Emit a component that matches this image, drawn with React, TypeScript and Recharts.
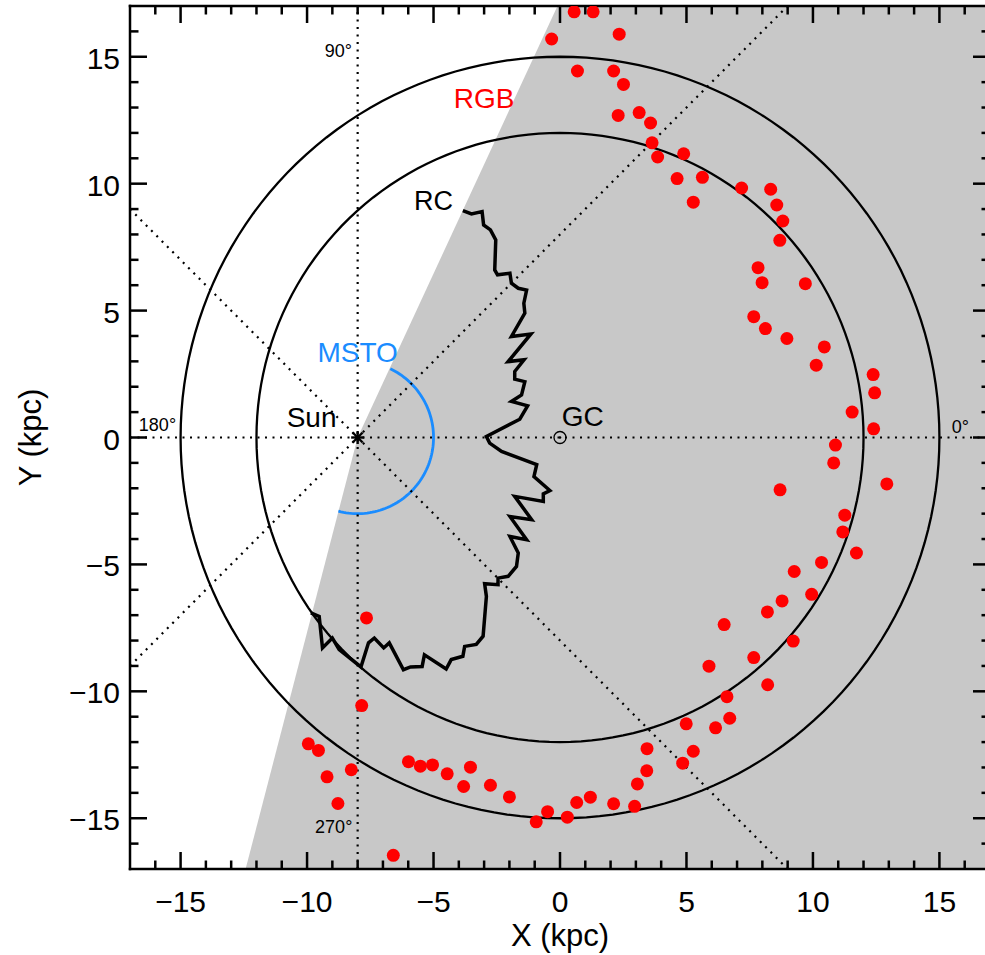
import React from "react";
import { Area, ComposedChart, Line, ReferenceDot, Scatter, XAxis, YAxis } from "recharts";

const FONT = '"Liberation Sans", Arial, Helvetica, sans-serif';

// galactocentric frame, kpc
const SUN = [{ x: -8, y: 0 }];
const GC = [{ x: 0, y: 0 }];
const RING_RADII = [12, 15];
const MSTO_RADIUS = 3;
const MSTO_ARC_DEG = [-104.7, 64.5];

// survey footprint (grey), boundary through the Sun
const FOOTPRINT = [
  { x: -12.43, y: -17 },
  { x: -8, y: 0 },
  { x: -0.1, y: 17 },
  { x: 17, y: 17 },
];

// lines of sight l = 0/180, 90/270, 45/225, 135/315
const LOS_LINES = [
  [{ x: -17, y: 0 }, { x: 17, y: 0 }],
  [{ x: -8, y: -17 }, { x: -8, y: 17 }],
  [{ x: -17, y: -9 }, { x: 9, y: 17 }],
  [{ x: -17, y: 9 }, { x: 9, y: -17 }],
];

// outer edge of the red clump sample
const RC_EDGE = [
  [-3.84, 8.94], [-3.5, 8.81], [-3.08, 8.9], [-3.02, 8.37], [-2.75, 8.18], [-2.54, 7.78],
  [-2.58, 6.6], [-2.47, 6.41], [-1.98, 6.47], [-1.92, 6.08], [-1.65, 5.88], [-1.32, 5.81],
  [-1.43, 5.29], [-1.39, 4.9], [-1.92, 3.98], [-1.15, 4.08], [-2.05, 2.99], [-1.42, 3.06],
  [-1.79, 2.6], [-1.79, 2.3], [-1.39, 2.2], [-1.52, 1.68], [-1.92, 1.42], [-1.28, 1.25],
  [-1.59, 0.72], [-2.91, 0.04], [-2.78, -0.22], [-2.31, -0.55], [-0.92, -1.07], [-1.03, -1.54],
  [-0.4, -2.09], [-0.66, -2.22], [-0.66, -2.52], [-1.79, -2.32], [-1.12, -3.24], [-1.98, -3.11],
  [-1.32, -4.03], [-1.98, -3.9], [-1.65, -4.55], [-1.72, -5.08], [-2.05, -5.47], [-2.45, -5.54],
  [-2.45, -5.8], [-2.98, -5.76], [-2.91, -6.26], [-3.04, -7.83], [-3.31, -8.15], [-3.77, -8.23],
  [-3.84, -8.62], [-4.3, -8.75], [-4.5, -9.12], [-5.36, -8.56], [-5.45, -9.02], [-5.91, -9.04],
  [-6.19, -9.15], [-6.75, -8.09], [-6.97, -8.29], [-7.34, -7.9], [-7.57, -8.09], [-7.87, -9.04],
  [-8.73, -8.36], [-9.0, -7.9], [-9.39, -8.29], [-9.52, -7.05], [-9.85, -6.91],
].map(([x, y]) => ({ x, y }));

// red giant branch stars
const RGB_STARS = [
  [0.56, 16.77], [1.31, 16.77], [-0.33, 15.7], [2.34, 15.89], [0.69, 14.44], [2.12, 14.44],
  [2.51, 13.91], [2.3, 12.69], [3.13, 12.8], [3.58, 12.39], [3.64, 11.61], [3.86, 11.05],
  [4.89, 11.18], [4.63, 10.2], [5.63, 10.25], [5.27, 9.27],
  [7.18, 9.83], [8.33, 9.78], [8.57, 9.16], [8.81, 8.53], [8.69, 7.77], [7.83, 6.69],
  [7.99, 6.1], [9.7, 6.06], [7.66, 4.76], [8.12, 4.29], [8.97, 3.9], [10.45, 3.57],
  [10.13, 2.85], [12.38, 2.48], [12.44, 1.76], [11.55, 1.0], [12.4, 0.34], [10.89, -0.3],
  [10.82, -1.0], [12.92, -1.83], [8.7, -2.06], [11.26, -3.06], [11.18, -3.72], [11.72, -4.55],
  [10.34, -4.92], [9.26, -5.28], [9.95, -6.18], [8.78, -6.44], [8.2, -6.87], [6.49, -7.37],
  [9.22, -8.02], [7.66, -8.67], [5.89, -9.01], [8.21, -9.74], [6.6, -10.21], [6.71, -11.06],
  [4.99, -11.28], [6.15, -11.44],
  [3.44, -12.26], [5.27, -12.36], [3.43, -13.13], [4.85, -12.83], [3.06, -13.65], [2.12, -14.43],
  [2.95, -14.53],
  [-7.84, -10.56], [-9.95, -12.07], [-9.55, -12.33], [-9.21, -13.37], [-8.25, -13.09], [-8.78, -14.42],
  [-6.59, -16.46], [-5.99, -12.77], [-5.52, -12.95], [-5.04, -12.9], [-4.46, -13.25], [-3.54, -12.99],
  [-3.81, -13.75], [-2.75, -13.7], [-2.0, -14.16], [-0.94, -15.14], [-0.49, -14.74], [0.29, -14.96],
  [0.66, -14.38], [1.2, -14.17],
  [-7.65, -7.11],
].map(([x, y]) => ({ x, y }));

const ALL_TICKS = [
  -16, -15, -14, -13, -12, -11, -10, -9, -8, -7, -6, -5, -4, -3, -2, -1, 0,
  1, 2, 3, 4, 5, 6, 7, 8, 9, 10, 11, 12, 13, 14, 15, 16,
];
const MAJOR_TICKS = [-15, -10, -5, 0, 5, 10, 15];
const EDGE = 17;

type Note = { x: number; y: number; text: string; color: string; size: number; anchor: "start" | "middle" | "end" };
const NOTES: Note[] = [
  { x: -3.0, y: 13.0, text: "RGB", color: "#ff0000", size: 28, anchor: "middle" },
  { x: -5.0, y: 8.96, text: "RC", color: "#000", size: 27, anchor: "middle" },
  { x: -8.0, y: 2.99, text: "MSTO", color: "#1a8cff", size: 28, anchor: "middle" },
  { x: -9.82, y: 0.43, text: "Sun", color: "#000", size: 28, anchor: "middle" },
  { x: 0.9, y: 0.45, text: "GC", color: "#000", size: 28, anchor: "middle" },
  { x: -8.22, y: 14.98, text: "90°", color: "#000", size: 18, anchor: "end" },
  { x: -8.21, y: -15.57, text: "270°", color: "#000", size: 18, anchor: "end" },
  { x: -16.65, y: 0.24, text: "180°", color: "#000", size: 18, anchor: "start" },
  { x: 15.49, y: 0.19, text: "0°", color: "#000", size: 18, anchor: "start" },
];

function arcPoints(cx: number, cy: number, r: number, fromDeg: number, toDeg: number) {
  const n = Math.max(2, Math.ceil(Math.abs(toDeg - fromDeg) / 2));
  const pts = [];
  for (let i = 0; i <= n; i++) {
    const a = ((fromDeg + ((toDeg - fromDeg) * i) / n) * Math.PI) / 180;
    pts.push({ x: cx + r * Math.cos(a), y: cy + r * Math.sin(a) });
  }
  return pts;
}

const fmt = (v: number) => (v < 0 ? "\u2212" + Math.abs(v) : String(v));

// tick labels only; the tick marks are drawn inside the frame below
const makeLabel = (side: "bottom" | "left") => (props: any) => {
  const { x, y, payload } = props;
  const v = payload.value as number;
  if (!MAJOR_TICKS.includes(v)) return <g />;
  return side === "bottom" ? (
    <text x={x} y={y + 43} textAnchor="middle" fontSize={30} fontFamily={FONT} fill="#000">
      {fmt(v)}
    </text>
  ) : (
    <text x={x - 10} y={y + 12} textAnchor="end" fontSize={30} fontFamily={FONT} fill="#000">
      {fmt(v)}
    </text>
  );
};

// inward tick marks on the four sides of the frame
const frameTicks = {
  bottom: ALL_TICKS.map((v) => ({ x: v, y: -EDGE })),
  top: ALL_TICKS.map((v) => ({ x: v, y: EDGE })),
  left: ALL_TICKS.map((v) => ({ x: -EDGE, y: v })),
  right: ALL_TICKS.map((v) => ({ x: EDGE, y: v })),
};

const tickShape = (side: "bottom" | "top" | "left" | "right") => (p: any) => {
  const v = side === "bottom" || side === "top" ? p.payload.x : p.payload.y;
  const len = MAJOR_TICKS.includes(v) ? 17 : 8.5;
  const dx = side === "left" ? len : side === "right" ? -len : 0;
  const dy = side === "bottom" ? -len : side === "top" ? len : 0;
  return <line x1={p.cx} y1={p.cy} x2={p.cx + dx} y2={p.cy + dy} stroke="#000" strokeWidth={2.5} />;
};

const noteShape = (n: Note) => (p: any) => (
  <text x={p.cx} y={p.cy} textAnchor={n.anchor} fontSize={n.size} fontFamily={FONT} fill={n.color}>
    {n.text}
  </text>
);

const StarDot = (p: any) => <circle cx={p.cx} cy={p.cy} r={6.5} fill="#ff0000" />;

const SunMark = (p: any) => {
  const s = 6.5;
  const d = 5;
  return (
    <g stroke="#000" strokeWidth={2.4}>
      <line x1={p.cx - s} y1={p.cy} x2={p.cx + s} y2={p.cy} />
      <line x1={p.cx} y1={p.cy - s} x2={p.cx} y2={p.cy + s} />
      <line x1={p.cx - d} y1={p.cy - d} x2={p.cx + d} y2={p.cy + d} />
      <line x1={p.cx - d} y1={p.cy + d} x2={p.cx + d} y2={p.cy - d} />
    </g>
  );
};

const GcMark = (p: any) => (
  <g>
    <circle cx={p.cx} cy={p.cy} r={6} fill="none" stroke="#000" strokeWidth={1.3} />
    <circle cx={p.cx} cy={p.cy} r={1.3} fill="#000" />
  </g>
);

const frame = { stroke: "#000", strokeWidth: 2.5, strokeLinecap: "square" as const };

export default function App() {
  const rings = RING_RADII.map((r) => arcPoints(GC[0].x, GC[0].y, r, 0, 360));
  const mstoArc = arcPoints(SUN[0].x, SUN[0].y, MSTO_RADIUS, MSTO_ARC_DEG[0], MSTO_ARC_DEG[1]);

  return (
    <div style={{ position: "absolute", left: 0, top: 0, width: 985, height: 955, overflow: "hidden", background: "#fff" }}>
      <ComposedChart width={1000} height={955} margin={{ top: 0, right: 0, bottom: 0, left: 0 }}>
        <XAxis
          dataKey="x"
          type="number"
          domain={[-EDGE, EDGE]}
          allowDataOverflow
          ticks={MAJOR_TICKS}
          interval={0}
          tickSize={0}
          tickMargin={0}
          tickLine={false}
          tick={makeLabel("bottom")}
          axisLine={frame}
          height={86}
          label={{
            content: (p: any) => {
              const vb = p.viewBox || { x: 130, y: 869, width: 860 };
              return (
                <text x={vb.x + vb.width / 2} y={vb.y + 77} textAnchor="middle" fontSize={31} fontFamily={FONT} fill="#000">
                  X (kpc)
                </text>
              );
            },
          }}
        />
        <XAxis
          xAxisId="top"
          orientation="top"
          type="number"
          domain={[-EDGE, EDGE]}
          allowDataOverflow
          ticks={MAJOR_TICKS}
          tick={false}
          tickLine={false}
          axisLine={frame}
          height={6}
        />
        <YAxis
          dataKey="y"
          type="number"
          domain={[-EDGE, EDGE]}
          allowDataOverflow
          ticks={MAJOR_TICKS}
          interval={0}
          tickSize={0}
          tickMargin={0}
          tickLine={false}
          tick={makeLabel("left")}
          axisLine={frame}
          width={130}
          label={{
            content: (p: any) => {
              const vb = p.viewBox || { x: 0, y: 6, height: 863 };
              const cy = vb.y + vb.height / 2;
              return (
                <text
                  x={41}
                  y={cy}
                  transform={`rotate(-90, 41, ${cy})`}
                  textAnchor="middle"
                  fontSize={31}
                  fontFamily={FONT}
                  fill="#000"
                >
                  Y (kpc)
                </text>
              );
            },
          }}
        />
        <YAxis
          yAxisId="right"
          orientation="right"
          type="number"
          domain={[-EDGE, EDGE]}
          allowDataOverflow
          ticks={MAJOR_TICKS}
          tick={false}
          tickLine={false}
          axisLine={frame}
          width={10}
        />

        <Area
          data={FOOTPRINT}
          dataKey="y"
          type="linear"
          baseValue="dataMin"
          fill="#c8c8c8"
          fillOpacity={1}
          stroke="none"
          isAnimationActive={false}
        />
        {rings.map((pts, i) => (
          <Line
            key={"ring" + i}
            data={pts}
            dataKey="y"
            type="linear"
            stroke="#000"
            strokeWidth={2.3}
            dot={false}
            activeDot={false}
            isAnimationActive={false}
          />
        ))}
        <Line
          data={mstoArc}
          dataKey="y"
          type="linear"
          stroke="#1a8cff"
          strokeWidth={2.8}
          dot={false}
          activeDot={false}
          isAnimationActive={false}
        />
        <Line
          data={RC_EDGE}
          dataKey="y"
          type="linear"
          stroke="#000"
          strokeWidth={3.5}
          strokeLinejoin="miter"
          dot={false}
          activeDot={false}
          isAnimationActive={false}
        />
        <Scatter data={RGB_STARS} shape={StarDot} isAnimationActive={false} />
        {LOS_LINES.map((seg, i) => (
          <Line
            key={"los" + i}
            data={seg}
            dataKey="y"
            type="linear"
            stroke="#000"
            strokeWidth={2.2}
            strokeDasharray="2 5.5"
            dot={false}
            activeDot={false}
            isAnimationActive={false}
          />
        ))}
        <Scatter data={SUN} shape={SunMark} isAnimationActive={false} />
        <Scatter data={GC} shape={GcMark} isAnimationActive={false} />
        <Scatter data={frameTicks.bottom} shape={tickShape("bottom")} isAnimationActive={false} />
        <Scatter data={frameTicks.top} shape={tickShape("top")} isAnimationActive={false} />
        <Scatter data={frameTicks.left} shape={tickShape("left")} isAnimationActive={false} />
        <Scatter data={frameTicks.right} shape={tickShape("right")} isAnimationActive={false} />
        {NOTES.map((n) => (
          <ReferenceDot key={n.text} x={n.x} y={n.y} r={0} ifOverflow="visible" shape={noteShape(n)} />
        ))}
      </ComposedChart>
    </div>
  );
}
